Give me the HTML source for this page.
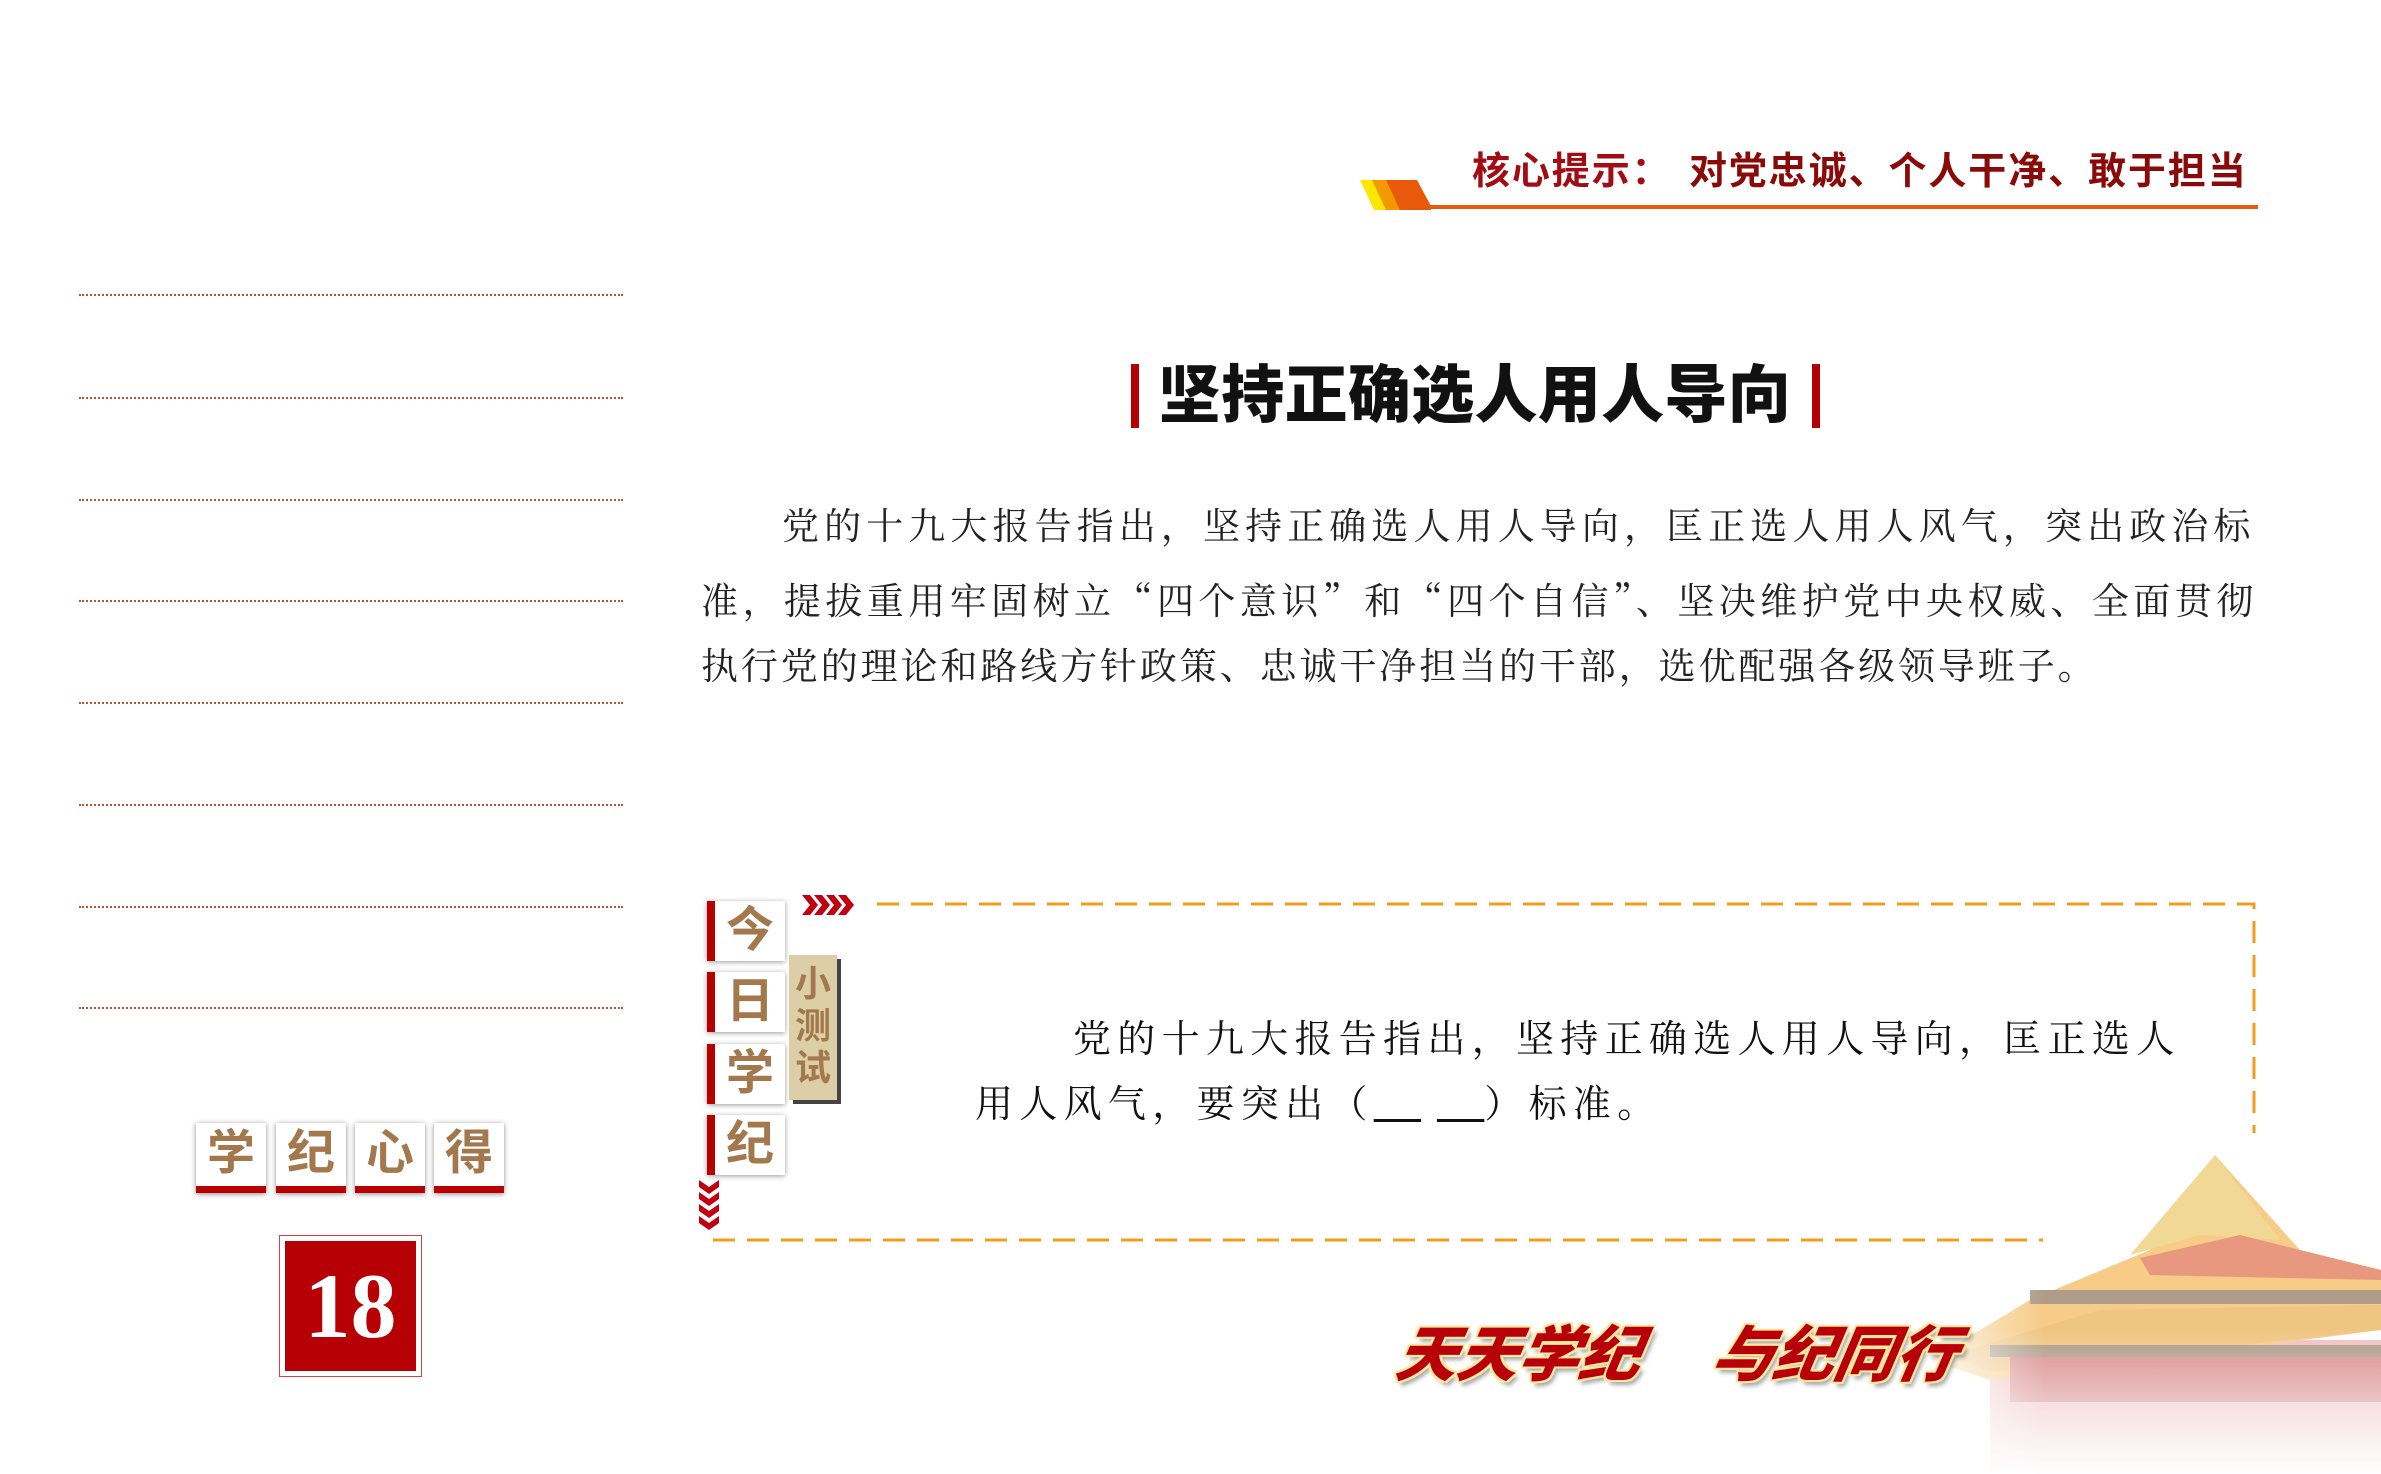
<!DOCTYPE html>
<html><head><meta charset="utf-8"><style>
body{margin:0;width:2381px;height:1474px;background:#fff;position:relative;overflow:hidden;font-family:"Liberation Sans","Noto Sans CJK SC",sans-serif}
.a{position:absolute}
.dot{position:absolute;left:79px;width:544px;border-top:2px dotted #b4553a}
.sq{position:absolute;top:1123px;width:70px;height:70px;background:#fff;box-shadow:0 1px 5px rgba(0,0,0,.45);border-bottom:7px solid #b90000;box-sizing:border-box;color:#a3784c;font-weight:bold;font-size:48px;line-height:62px;text-align:center}
.tb{position:absolute;left:707px;width:78px;height:60px;background:#fff;box-shadow:0 1px 5px rgba(0,0,0,.4);border-left:8px solid #b90000;box-sizing:border-box;color:#a3784c;font-weight:bold;font-size:48px;line-height:60px;text-align:center}
.p{position:absolute;left:701px;font-family:"Liberation Serif","Noto Serif CJK SC",serif;font-size:37px;letter-spacing:5.1px;color:#222;white-space:nowrap;line-height:46px}
.c{font-family:"Noto Serif CJK SC",serif}
.q{position:absolute;font-family:"Liberation Serif","Noto Serif CJK SC",serif;font-size:38px;letter-spacing:6.3px;color:#111;white-space:nowrap;line-height:46px}
</style></head><body>
<!-- header -->
<svg class="a" style="left:1355px;top:174px" width="910" height="40">
<polygon points="5,6 18,6 32,36 19,36" fill="#ffe600"/>
<polygon points="17,6 33,6 47,36 31,36" fill="#f39800"/>
<polygon points="31,6 62,6 76,32 76,36 45,36" fill="#e85a0a"/>
<rect x="75" y="31" width="828" height="4" fill="#ea5a0c"/>
</svg>
<div class="a" style="left:1472px;top:149px;font-size:38px;font-weight:bold;color:#a10d12;white-space:nowrap;letter-spacing:1.9px;line-height:46px">核心提示：<span style="position:absolute;left:217px;color:#8a0a0a">对党忠诚、个人干净、敢于担当</span></div>
<!-- title -->
<div class="a" style="left:1131px;top:364px;width:8px;height:64px;background:#b40000"></div>
<div class="a" style="left:1812px;top:364px;width:8px;height:64px;background:#b40000"></div>
<div class="a" style="left:1158px;top:356px;font-size:63px;font-weight:900;color:#111;line-height:80px;white-space:nowrap;letter-spacing:0.3px">坚持正确选人用人导向</div>
<div class="p" style="top:505px"><span style="margin-left:81px"></span>党的十九大报告指出，坚持正确选人用人导向，匡正选人用人风气，突出政治标</div>
<div class="p" style="top:575px;letter-spacing:4.45px">准，提拔重用牢固树立<span class="c">“</span>四个意识<span class="c">”</span>和<span class="c">“</span>四个自信<span class="c">”</span>、坚决维护党中央权威、全面贯彻</div>
<div class="p" style="top:645px;letter-spacing:2.9px">执行党的理论和路线方针政策、忠诚干净担当的干部，选优配强各级领导班子。</div>
<!-- dotted lines -->
<div class="dot" style="top:294px"></div><div class="dot" style="top:397px"></div><div class="dot" style="top:499px"></div><div class="dot" style="top:600px"></div><div class="dot" style="top:702px"></div><div class="dot" style="top:804px"></div><div class="dot" style="top:906px"></div><div class="dot" style="top:1007px"></div>
<div class="sq" style="left:196px">学</div><div class="sq" style="left:276px">纪</div><div class="sq" style="left:355px">心</div><div class="sq" style="left:434px">得</div>
<div class="a" style="left:279px;top:1235px;width:141px;height:140px;border:1px solid #c44;"></div>
<div class="a" style="left:285px;top:1241px;width:131px;height:130px;background:#b60005;color:#fff;font-family:'Liberation Serif',serif;font-weight:bold;font-size:92px;line-height:130px;text-align:center">18</div>
<!-- building -->
<svg class="a" style="left:1900px;top:1140px;opacity:.6" width="481" height="334">
<defs><linearGradient id="f" x1="0" y1="0" x2="0" y2="1"><stop offset="0" stop-color="#fff" stop-opacity="0"/><stop offset="1" stop-color="#fff" stop-opacity="1"/></linearGradient>
<linearGradient id="g" x1="0" y1="0" x2="1" y2="0"><stop offset="0" stop-color="#fff" stop-opacity="1"/><stop offset=".3" stop-color="#fff" stop-opacity="0"/></linearGradient></defs>
<rect x="90" y="200" width="391" height="134" fill="#e79a9a"/>
<polygon points="30,220 130,160 250,110 315,15 400,110 481,130 481,190 90,240" fill="#f2a93a"/>
<polygon points="230,115 315,15 380,100 300,95" fill="#e8c050"/>
<polygon points="240,118 340,95 400,110 481,130 481,140 250,135" fill="#d8552a"/>
<rect x="130" y="150" width="351" height="14" fill="#7a5a3a"/>
<polygon points="50,215 200,170 481,165 481,190 90,232" fill="#e6a030"/>
<rect x="90" y="205" width="391" height="12" fill="#7a5a3a"/>
<rect x="110" y="217" width="371" height="45" fill="#c04040"/>
<rect x="0" y="0" width="481" height="334" fill="url(#g)"/>
<rect x="0" y="190" width="481" height="144" fill="url(#f)"/>
</svg>
<!-- quiz -->
<div class="tb" style="top:901px">今</div><div class="tb" style="top:972px">日</div><div class="tb" style="top:1044px">学</div><div class="tb" style="top:1115px">纪</div>
<div class="a" style="left:789px;top:955px;width:48px;height:145px;background:#dccfa8;box-shadow:4px 4px 0 #444;color:#a3784c;font-weight:bold;font-size:36px;line-height:42px;text-align:center;padding-top:8px;box-sizing:border-box">小<br>测<br>试</div>
<svg class="a" style="left:800px;top:893px" width="58" height="26"><g fill="#c00010"><polygon points="2,2 10,2 18,12 10,22 2,22 10,12"/><polygon points="14,2 22,2 30,12 22,22 14,22 22,12"/><polygon points="26,2 34,2 42,12 34,22 26,22 34,12"/><polygon points="38,2 46,2 54,12 46,22 38,22 46,12"/></g></svg>
<svg class="a" style="left:698px;top:1180px" width="24" height="54"><g fill="#c00010"><polygon points="1,0 11,7 21,0 21,7 11,14 1,7"/><polygon points="1,12 11,19 21,12 21,19 11,26 1,19"/><polygon points="1,24 11,31 21,24 21,31 11,38 1,31"/><polygon points="1,36 11,43 21,36 21,43 11,50 1,43"/></g></svg>
<svg class="a" style="left:0;top:0;pointer-events:none" width="2381" height="1474">
<path d="M877 904 H2254 V1133" fill="none" stroke="#f29c1f" stroke-width="3" stroke-dasharray="22 12"/>
<path d="M713 1240 H2043" fill="none" stroke="#f29c1f" stroke-width="3" stroke-dasharray="22 12"/>
</svg>
<div class="q" style="left:1073px;top:1017px">党的十九大报告指出，坚持正确选人用人导向，匡正选人</div>
<div class="q" style="left:975px;top:1082px">用人风气，要突出（<span style="text-decoration:underline">&nbsp;&nbsp;&nbsp;</span>&nbsp;<span style="text-decoration:underline">&nbsp;&nbsp;&nbsp;</span>）标准。</div>
<!-- slogan -->
<div class="a" style="left:1398px;top:1305px;font-size:61px;font-weight:900;font-style:italic;color:#b8000a;white-space:nowrap;transform:skewX(-10deg);text-shadow:-2px -2px 0 #ffe9a0,2px -2px 0 #ffe9a0,-2px 2px 0 #ffe9a0,2px 2px 0 #ffe9a0,4px 5px 4px rgba(0,0,0,.35)">天天学纪<span style="margin-left:72px">与纪同行</span></div>
</body></html>
